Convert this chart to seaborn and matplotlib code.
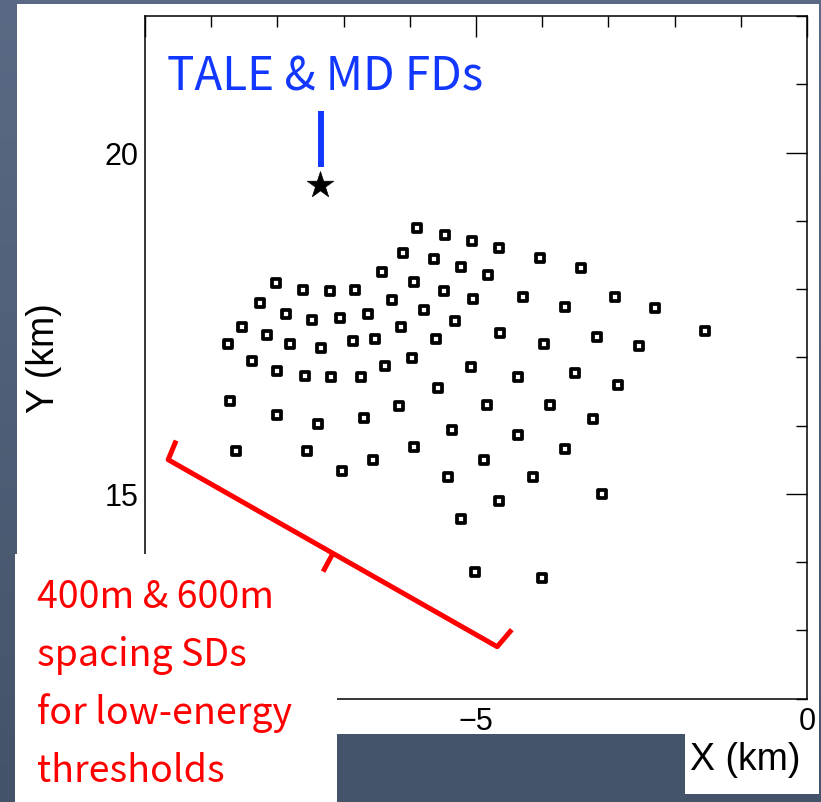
import matplotlib
matplotlib.use("Agg")
import numpy as np
import matplotlib.pyplot as plt
from matplotlib.patches import Rectangle
from matplotlib.ticker import MultipleLocator, FixedLocator, FixedFormatter
import seaborn as sns

# surface detector positions (km)
sd_x = [-6.42, -8.02, -7.61, -7.20, -6.83, -8.27, -7.87, -7.47, -7.05, -6.63,
        -8.53, -8.15, -8.75, -7.81, -7.34, -6.86, -6.52, -8.39, -8.01, -7.59,
        -7.19, -6.74, -6.37, -8.71, -5.89, -5.47, -5.06, -4.65, -4.04, -6.11,
        -5.63, -5.23, -4.82, -5.94, -5.48, -5.05, -4.29, -6.27, -5.78, -5.32,
        -6.13, -5.61, -4.64, -3.97, -5.97, -5.08, -4.37, -5.58, -6.16, -4.84,
        -3.89, -3.42, -2.90, -3.66, -2.29, -1.54, -3.17, -2.54, -3.51, -2.86,
        -8.01, -7.38, -6.69, -8.63, -7.55, -6.56, -7.03, -5.37, -4.37, -5.94,
        -4.88, -5.42, -4.14, -4.66, -5.23, -5.02, -4.00, -3.23, -3.66, -3.10]
sd_y = [18.25, 18.09, 17.99, 17.97, 17.98, 17.79, 17.63, 17.55, 17.57, 17.63,
        17.45, 17.33, 17.19, 17.19, 17.13, 17.24, 17.27, 16.94, 16.80, 16.72,
        16.71, 16.71, 16.87, 16.36, 18.89, 18.79, 18.70, 18.60, 18.46, 18.53,
        18.44, 18.32, 18.21, 18.10, 17.97, 17.85, 17.88, 17.84, 17.69, 17.53,
        17.44, 17.27, 17.36, 17.19, 16.99, 16.86, 16.71, 16.55, 16.29, 16.30,
        16.30, 18.31, 17.88, 17.73, 17.72, 17.39, 17.30, 17.16, 16.77, 16.60,
        16.15, 16.02, 16.11, 15.63, 15.62, 15.50, 15.34, 15.94, 15.86, 15.69,
        15.50, 15.24, 15.24, 14.90, 14.63, 13.85, 13.76, 16.10, 15.65, 14.99]

# fluorescence detector site
fd_x = [-7.36]
fd_y = [19.53]

# tick labels (the -10 label sits under the note box in the original)
x_ticks = [-10, -5, 0]
x_labels = ["", "\u22125", "0"]
y_ticks = [15, 20]
y_labels = ["15", "20"]

# annotation shapes (km)
bracket_x = [-9.53, -9.65, -4.68, -4.46]
bracket_y = [15.78, 15.50, 12.76, 13.01]
notch_x = [-7.16, -7.31]
notch_y = [14.13, 13.86]
pointer_x = [-7.34, -7.34]
pointer_y = [20.61, 19.79]

red_lines = ["400m & 600m", "spacing SDs", "for low-energy", "thresholds"]

sns.set_theme(style="white")
plt.rcParams["font.family"] = ["Liberation Sans", "DejaVu Sans"]
cjk = ["Noto Sans CJK JP", "DejaVu Sans"]

fig = plt.figure(figsize=(8.21, 8.03), dpi=100, facecolor="#4a5a73")

# slide background
bg = fig.add_axes([0, 0, 1, 1], zorder=-2)
grad = np.linspace(0, 1, 256).reshape(-1, 1)
bg.imshow(grad, aspect="auto", extent=[0, 1, 0, 1],
          cmap=matplotlib.colors.LinearSegmentedColormap.from_list("bg", ["#5b6a84", "#435369"]))
bg.axis("off")
fig.patches.append(Rectangle((0.0207, 0.0100), 0.9769, 0.9838, transform=fig.transFigure,
                             facecolor="white", edgecolor="none", zorder=-1))

ax = fig.add_axes([0.1766, 0.1288, 0.8064, 0.85])
ax.set_facecolor("white")

sns.scatterplot(x=sd_x, y=sd_y, marker="s", s=34, color="white", edgecolor="black",
                linewidth=2.7, ax=ax, zorder=3)
sns.scatterplot(x=fd_x, y=fd_y, marker="*", s=400, color="black", edgecolor="black",
                linewidth=0.5, ax=ax, zorder=3)

ax.set_xlim(-10, 0)
ax.set_ylim(12, 22)
ax.xaxis.set_major_locator(FixedLocator(x_ticks))
ax.xaxis.set_major_formatter(FixedFormatter(x_labels))
ax.xaxis.set_minor_locator(MultipleLocator(1))
ax.yaxis.set_major_locator(FixedLocator(y_ticks))
ax.yaxis.set_major_formatter(FixedFormatter(y_labels))
ax.yaxis.set_minor_locator(MultipleLocator(1))
ax.tick_params(which="both", direction="in", top=True, right=True, width=1.0, color="black")
ax.tick_params(which="major", length=15, labelsize=22, pad=5, labelcolor="black")
ax.tick_params(which="minor", length=8)
for sp in ax.spines.values():
    sp.set_color("black")
    sp.set_linewidth(1.1)

ax.set_xlabel("X (km)", fontsize=27, color="black")
ax.set_ylabel("Y (km)", fontsize=27, color="black")
ax.xaxis.set_label_coords(0.906, -0.062)
ax.yaxis.set_label_coords(-0.126, 0.5)

# blue label for the FD site
ax.text(-9.67, 20.92, "TALE & MD FDs", color="#1238ff", fontsize=33, family=cjk,
        va="baseline", ha="left")
ax.plot(pointer_x, pointer_y, color="#1238ff", lw=4.3, solid_capstyle="butt")

# white box for the red note, over the axes corner
ax.add_patch(Rectangle((0.0183, 0.0), 0.3922, 0.3088, transform=fig.transFigure,
                       facecolor="white", edgecolor="none", clip_on=False, zorder=4))
ax.plot(bracket_x, bracket_y, color="red", lw=3.6, solid_joinstyle="round",
        solid_capstyle="butt", clip_on=False, zorder=5)
ax.plot(notch_x, notch_y, color="red", lw=3.6, solid_capstyle="butt", clip_on=False, zorder=5)
for line, yb in zip(red_lines, [0.2428, 0.1706, 0.0984, 0.0262]):
    ax.text(0.0451, yb, line, transform=fig.transFigure, color="red", fontsize=27,
            family=cjk, va="baseline", ha="left", zorder=6)

fig.patches.append(Rectangle((0.4105, 0.0), 0.4239, 0.0847, transform=fig.transFigure,
                             facecolor="#44546a", edgecolor="none", zorder=10))

fig.savefig("out.png", dpi=100, facecolor=fig.get_facecolor())
